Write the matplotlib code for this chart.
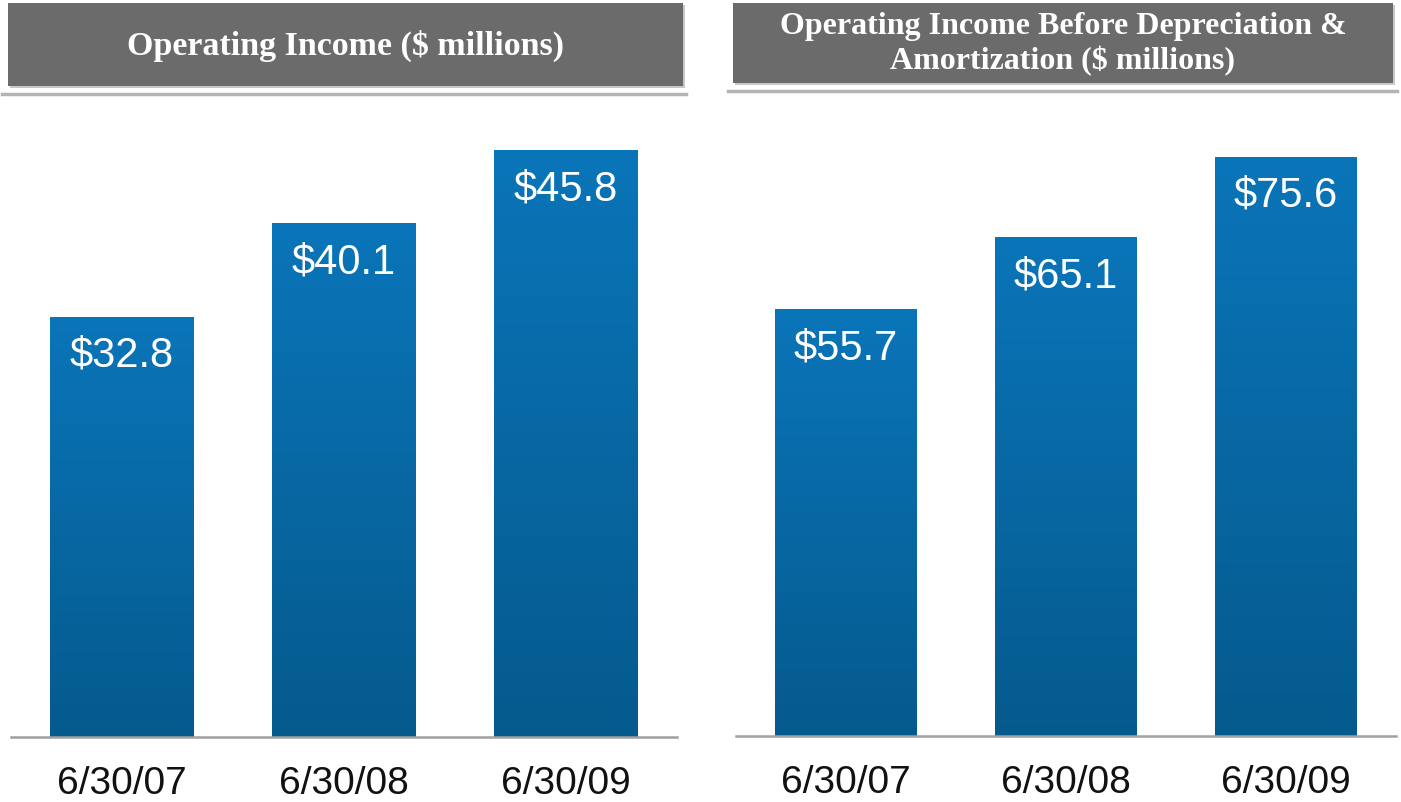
import numpy as np
import matplotlib
matplotlib.use("Agg")
import matplotlib.pyplot as plt
from matplotlib.patches import Rectangle
from matplotlib.colors import LinearSegmentedColormap

# ---- data ----
categories = ["6/30/07", "6/30/08", "6/30/09"]
op_income = [32.8, 40.1, 45.8]
oibda = [55.7, 65.1, 75.6]
titles = ["Operating Income ($ millions)",
          "Operating Income Before Depreciation &\nAmortization ($ millions)"]

W, H = 1401, 803
fig = plt.figure(figsize=(W / 100, H / 100), dpi=100)
fig.patch.set_facecolor("white")

def fx(px):
    return px / W

def fy(py):
    return 1 - py / H

cmap = LinearSegmentedColormap.from_list("barg", ["#055a8d", "#0a75b9"])

def header(x0, x1, y0, y1, line_y, lx0, lx1, text, size):
    fig.patches.append(Rectangle((fx(x0) + 0.0015, fy(y1) - 0.003), fx(x1 - x0), fy(y0) - fy(y1),
                                 transform=fig.transFigure, facecolor="#c8c8c8",
                                 edgecolor="none", zorder=1))
    fig.patches.append(Rectangle((fx(x0), fy(y1)), fx(x1 - x0), fy(y0) - fy(y1),
                                 transform=fig.transFigure, facecolor="#6b6b6b",
                                 edgecolor="none", zorder=2))
    fig.add_artist(plt.Line2D([fx(lx0), fx(lx1)], [fy(line_y), fy(line_y)],
                              transform=fig.transFigure, color="#b4b4b4", lw=2.5, zorder=2))
    fig.text(fx((x0 + x1) / 2), fy((y0 + y1) / 2), text, ha="center", va="center",
             color="white", fontsize=size, fontweight="bold", family="Liberation Serif",
             linespacing=1.22, zorder=3)

def panel(ax_px, values, ymax):
    x0, x1, ytop, ybot = ax_px
    ax = fig.add_axes([fx(x0), fy(ybot), fx(x1 - x0), fy(ytop) - fy(ybot)])
    xs = np.arange(len(values))
    bars = ax.bar(xs, values, width=0.645, color="#0868a3", zorder=2)
    for b, v in zip(bars, values):
        bx, bw = b.get_x(), b.get_width()
        grad = np.linspace(0, 1, 256).reshape(-1, 1)
        im = ax.imshow(grad, extent=[bx, bx + bw, 0, v], origin="lower", cmap=cmap,
                       aspect="auto", zorder=3)
        im.set_clip_path(b)
        ax.annotate(f"${v:.1f}", (b.get_x() + bw / 2, v), xytext=(0, -38),
                    textcoords="offset pixels", ha="center", va="center",
                    color="white", fontsize=30, family="Liberation Sans", zorder=4)
    ax.set_xlim(-0.5, 2.5)
    ax.set_ylim(0, ymax)
    for s in ["top", "left", "right"]:
        ax.spines[s].set_visible(False)
    ax.spines["bottom"].set_color("#a0a0a0")
    ax.spines["bottom"].set_linewidth(1.8)
    ax.spines["bottom"].set_zorder(5)
    ax.set_yticks([])
    ax.set_xticks(xs)
    ax.set_xticklabels(categories, fontsize=28, family="Liberation Sans", color="#111111")
    ax.tick_params(axis="x", length=0, pad=20)
    ax.set_facecolor("none")
    return ax

header(8, 683, 4, 87, 95, 2, 686, titles[0], 24.5)
header(733, 1393, 4, 84, 92, 728, 1397, titles[1], 23)

panel((11, 677, 110, 738), op_income, (738 - 110) / 12.81)
panel((736, 1396, 110, 737), oibda, (737 - 110) / 7.66)

fig.savefig("out.png", dpi=100, facecolor="white")
